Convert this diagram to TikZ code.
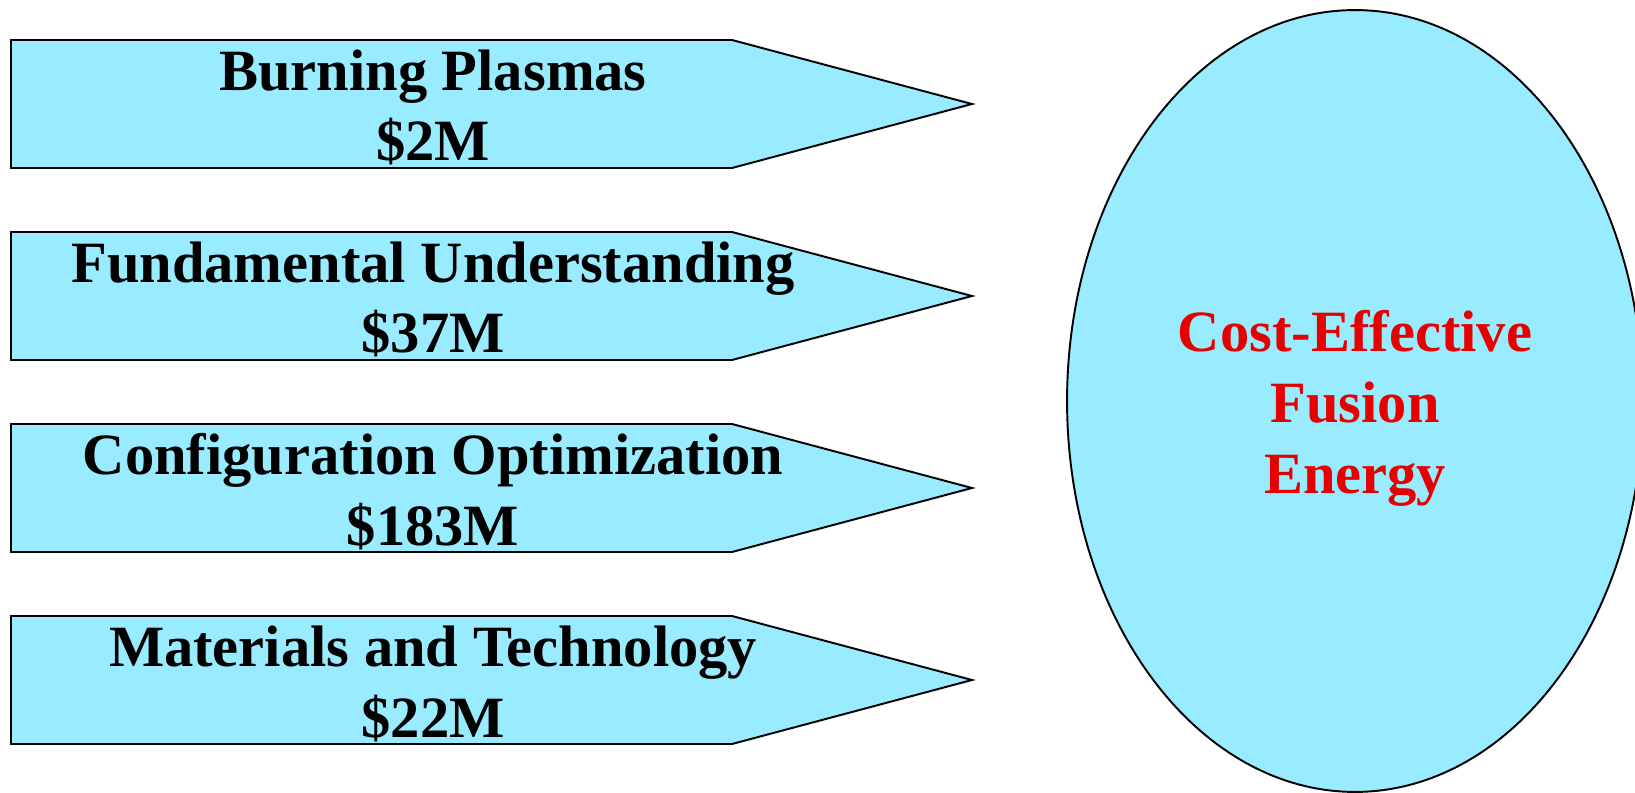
\documentclass[tikz,border=0pt]{standalone}
\usepackage{fontspec}
\setmainfont{Liberation Serif}
\usetikzlibrary{shapes.geometric}

\definecolor{paleblue}{RGB}{153,235,255}
\definecolor{goalred}{RGB}{230,0,0}

\begin{document}
\begin{tikzpicture}[x=0.02cm,y=-0.02cm,line width=1.1pt]
\tikzstyle{every node}=[font=\bfseries\fontsize{33.3}{40.4}\selectfont, align=center, inner sep=0pt]
\tikzstyle{arrowbox}=[fill=paleblue,draw=black,line join=miter]
\tikzstyle{goal}=[ellipse,fill=paleblue,draw=black,minimum width=11.52cm,minimum height=15.64cm]

\useasboundingbox (0,0) rectangle (1635,793);

% program arrows
\draw[arrowbox] (11,40) -- (732,40) -- (972,104) -- (732,168) -- (11,168) -- cycle;
\draw[arrowbox] (11,232) -- (732,232) -- (972,296) -- (732,360) -- (11,360) -- cycle;
\draw[arrowbox] (11,424) -- (732,424) -- (972,488) -- (732,552) -- (11,552) -- cycle;
\draw[arrowbox] (11,616) -- (732,616) -- (972,680) -- (732,744) -- (11,744) -- cycle;

\node[anchor=base]	(burning)     at (433,161) {Burning Plasmas\\\$2M};
\node[anchor=base]	(fundamental) at (433,353) {Fundamental Understanding\\\$37M};
\node[anchor=base]	(config)      at (433,545) {Configuration Optimization\\\$183M};
\node[anchor=base]	(materials)   at (433,737) {Materials and Technology\\\$22M};

% goal
\node[goal]		(goal) at (1355,401) {};
\node[anchor=base,text=goalred] (goaltext) at (1355,493) {Cost-Effective\\Fusion\\Energy};
\end{tikzpicture}
\end{document}
